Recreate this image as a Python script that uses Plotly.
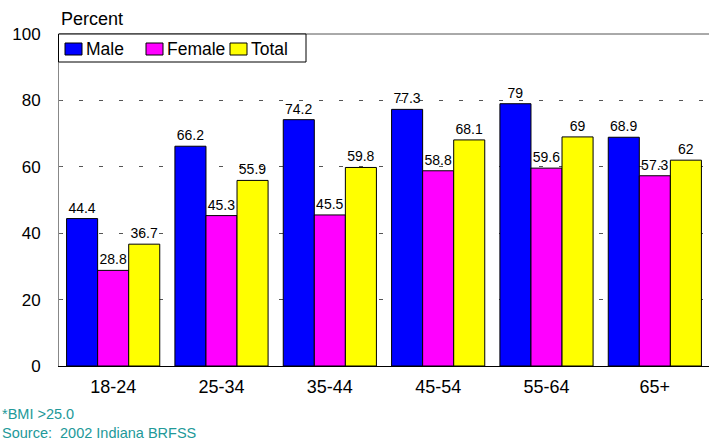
import plotly.graph_objects as go

age_groups = ["18-24", "25-34", "35-44", "45-54", "55-64", "65+"]
male = [44.4, 66.2, 74.2, 77.3, 79, 68.9]
female = [28.8, 45.3, 45.5, 58.8, 59.6, 57.3]
total = [36.7, 55.9, 59.8, 68.1, 69, 62]
y_ticks = [0, 20, 40, 60, 80, 100]

series = [("Male", male, "#0000FF"), ("Female", female, "#FF00FF"), ("Total", total, "#FFFF00")]

W, H = 710, 440
L, R, T, B = 59, 1, 34, 74
PW, PH = W - L - R, H - T - B


def px(x):
    return (x - L) / PW


def py(y):
    return (H - B - y) / PH


fig = go.Figure()
for name, vals, color in series:
    fig.add_trace(go.Bar(
        x=age_groups, y=vals, name=name,
        marker=dict(color=color, line=dict(color="black", width=1)),
        text=[f"{v:g}" for v in vals], textposition="outside",
        textfont=dict(family="Arial", size=14, color="black"),
        cliponaxis=False, showlegend=False,
    ))

shapes = [
    # solid top border of the plotting area
    dict(type="line", xref="paper", yref="paper", x0=0, x1=1, y0=1, y1=1,
         line=dict(color="#555555", width=1), layer="below"),
    # legend frame
    dict(type="rect", xref="paper", yref="paper", x0=px(58.5), x1=px(306), y0=py(62), y1=py(34),
         fillcolor="white", line=dict(color="black", width=1), layer="above"),
]
annotations = []
legend_x = [65, 146, 230]
for (name, _, color), lx in zip(series, legend_x):
    shapes.append(dict(type="rect", xref="paper", yref="paper",
                       x0=px(lx), x1=px(lx + 17), y0=py(55), y1=py(43),
                       fillcolor=color, line=dict(color="black", width=1), layer="above"))
    annotations.append(dict(text=name, xref="paper", yref="paper", x=px(lx + 18.5), y=py(49),
                            xanchor="left", yanchor="middle", showarrow=False,
                            font=dict(family="Arial", size=17.5, color="black")))

annotations += [
    dict(text="Percent", xref="paper", yref="paper", x=0, y=1, xanchor="left",
         yanchor="bottom", yshift=3, showarrow=False,
         font=dict(family="Arial", size=18, color="black")),
    dict(text="*BMI >25.0<br>Source:  2002 Indiana BRFSS", xref="paper", yref="paper",
         x=0, y=0, xanchor="left", yanchor="top", xshift=-59, yshift=-38,
         align="left", showarrow=False,
         font=dict(family="Arial", size=14.5, color="#229999")),
]

fig.update_layout(
    width=W, height=H,
    margin=dict(l=L, r=R, t=T, b=B),
    paper_bgcolor="white", plot_bgcolor="white",
    barmode="group", bargap=0.14, bargroupgap=0,
    font=dict(family="Arial", color="black"),
    showlegend=False,
    xaxis=dict(
        showgrid=False, showline=True, linecolor="black", linewidth=1,
        ticks="", tickfont=dict(family="Arial", size=18, color="black"),
        range=[-0.5, 5.5], ticklabelstandoff=4,
    ),
    yaxis=dict(
        range=[0, 100], tickvals=y_ticks,
        showgrid=True, gridcolor="#555555", gridwidth=1, griddash="4px,16px",
        showline=True, linecolor="#888888", linewidth=1,
        ticks="inside", ticklen=3, tickcolor="#666666",
        tickfont=dict(family="Arial", size=17, color="black"),
        ticklabelstandoff=14, zeroline=False,
    ),
    shapes=shapes,
    annotations=annotations,
)

fig.write_html("out.html")
